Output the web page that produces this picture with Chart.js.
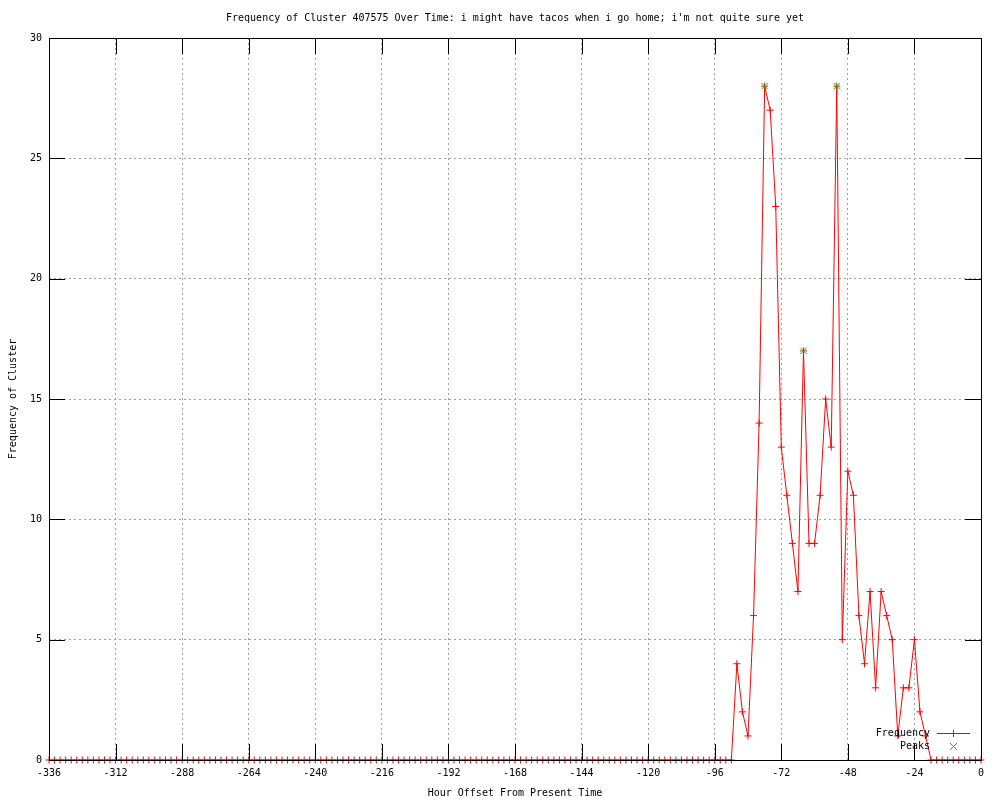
<!DOCTYPE html>
<html>
<head>
<meta charset="utf-8">
<script src="https://cdn.jsdelivr.net/npm/chart.js@4/dist/chart.umd.min.js"></script>
<style>
  html, body { margin: 0; padding: 0; background: #ffffff; }
  #wrap { width: 1000px; height: 800px; }
</style>
</head>
<body>
<div id="wrap"><canvas id="chart-cluster" width="1000" height="800"></canvas></div>
<script>
// ============================================================
// DATOS
// ============================================================
const chartTitle = "Frequency of Cluster 407575 Over Time: i might have tacos when i go home; i'm not quite sure yet";
const xTitle = 'Hour Offset From Present Time';
const yTitle = 'Frequency of Cluster';

// una muestra cada 2 horas, de -336 a 0
const hours = Array.from({ length: 169 }, (_, i) => -336 + 2 * i);

const frequency = [
    0, 0, 0, 0, 0, 0, 0, 0, 0, 0, 0, 0,        // -336 .. -314
    0, 0, 0, 0, 0, 0, 0, 0, 0, 0, 0, 0,        // -312 .. -290
    0, 0, 0, 0, 0, 0, 0, 0, 0, 0, 0, 0,        // -288 .. -266
    0, 0, 0, 0, 0, 0, 0, 0, 0, 0, 0, 0,        // -264 .. -242
    0, 0, 0, 0, 0, 0, 0, 0, 0, 0, 0, 0,        // -240 .. -218
    0, 0, 0, 0, 0, 0, 0, 0, 0, 0, 0, 0,        // -216 .. -194
    0, 0, 0, 0, 0, 0, 0, 0, 0, 0, 0, 0,        // -192 .. -170
    0, 0, 0, 0, 0, 0, 0, 0, 0, 0, 0, 0,        // -168 .. -146
    0, 0, 0, 0, 0, 0, 0, 0, 0, 0, 0, 0,        // -144 .. -122
    0, 0, 0, 0, 0, 0, 0, 0, 0, 0, 0, 0,        // -120 .. -98
    0, 0, 0, 0, 4, 2, 1, 6, 14, 28, 27, 23,    // -96 .. -74
    13, 11, 9, 7, 17, 9, 9, 11, 15, 13, 28, 5, // -72 .. -50
    12, 11, 6, 4, 7, 3, 7, 6, 5, 1, 3, 3,      // -48 .. -26
    5, 2, 1, 0, 0, 0, 0, 0, 0, 0, 0, 0,        // -24 .. -2
    0                                          // 0
];

const peakHours  = [-78, -64, -52];
const peakValues = [28, 17, 28];

const xTicks = [-336, -312, -288, -264, -240, -216, -192, -168, -144, -120, -96, -72, -48, -24, 0];
const yTicks = [0, 5, 10, 15, 20, 25, 30];

// ============================================================
// ESTILO
// ============================================================
const FONT = { family: "'DejaVu Sans Mono', 'Liberation Mono', monospace", size: 10, weight: 'normal' };
const RED = '#ff0000';
const GREEN = '#00c800';
const GRID = '#a0a0a0';
const TICK_LEN = 16;

// Marco + ticks interiores (estilo gnuplot), con rectángulos enteros
const framePlugin = {
    id: 'frame',
    afterDatasetsDraw(chart) {
        const { ctx, chartArea: a, scales } = chart;
        const L = Math.round(a.left), R = Math.round(a.right);
        const T = Math.round(a.top), B = Math.round(a.bottom);
        ctx.save();
        ctx.fillStyle = '#000000';
        xTicks.forEach(v => {
            const px = Math.round(scales.x.getPixelForValue(v));
            ctx.fillRect(px, B - TICK_LEN, 1, TICK_LEN);
            ctx.fillRect(px, T, 1, TICK_LEN);
        });
        yTicks.forEach(v => {
            const py = Math.round(scales.y.getPixelForValue(v));
            ctx.fillRect(L, py, TICK_LEN, 1);
            ctx.fillRect(R - TICK_LEN, py, TICK_LEN, 1);
        });
        ctx.fillRect(L, T, R - L + 1, 1);
        ctx.fillRect(L, B, R - L + 1, 1);
        ctx.fillRect(L, T, 1, B - T + 1);
        ctx.fillRect(R, T, 1, B - T + 1);
        ctx.restore();
    }
};

// Leyenda abajo a la derecha
const legendPlugin = {
    id: 'gnuLegend',
    afterDraw(chart) {
        const c = chart.ctx;
        const textRight = 930, x1 = 937, x2 = 970, xm = 953;
        const rows = [{ label: 'Frequency', y: 733 }, { label: 'Peaks', y: 746 }];
        c.save();
        c.font = "10px 'DejaVu Sans Mono', 'Liberation Mono', monospace";
        c.fillStyle = '#000000';
        c.textAlign = 'right';
        c.textBaseline = 'middle';
        rows.forEach(r => c.fillText(r.label, textRight, r.y));
        // Frequency: linea + cruz
        c.fillStyle = RED;
        c.fillRect(x1, rows[0].y, x2 - x1, 1);
        c.fillRect(xm, rows[0].y - 3, 1, 7);
        // Peaks: x verde
        c.strokeStyle = GREEN;
        c.lineWidth = 1;
        c.beginPath();
        c.moveTo(xm - 3, rows[1].y - 3); c.lineTo(xm + 4, rows[1].y + 4);
        c.moveTo(xm + 4, rows[1].y - 3); c.lineTo(xm - 3, rows[1].y + 4);
        c.stroke();
        c.restore();
    }
};

// ============================================================
// GRÁFICO
// ============================================================
const canvas = document.getElementById('chart-cluster');
new Chart(canvas, {
    type: 'line',
    data: {
        datasets: [
            {
                label: 'Frequency',
                data: hours.map((h, i) => ({ x: h, y: frequency[i] })),
                borderColor: RED,
                borderWidth: 1,
                tension: 0,
                pointStyle: 'cross',
                pointRadius: 3.5,
                pointBorderColor: RED,
                pointBorderWidth: 1,
                clip: false,
                order: 2
            },
            {
                label: 'Peaks',
                data: peakHours.map((h, i) => ({ x: h, y: peakValues[i] })),
                showLine: false,
                pointStyle: 'crossRot',
                pointRadius: 4.5,
                pointBorderColor: GREEN,
                pointBorderWidth: 1,
                clip: false,
                order: 1
            }
        ]
    },
    options: {
        responsive: false,
        animation: false,
        layout: { padding: { top: 0, left: 0, right: 19, bottom: 0 } },
        plugins: {
            legend: { display: false },
            tooltip: { enabled: false },
            title: {
                display: true,
                fullSize: false,
                text: chartTitle,
                color: '#000000',
                font: FONT,
                padding: { top: 12, bottom: 14 }
            }
        },
        scales: {
            x: {
                type: 'linear',
                min: -336,
                max: 0,
                afterFit: s => { s.height = 40; },
                afterBuildTicks: s => { s.ticks = xTicks.map(v => ({ value: v })); },
                ticks: { color: '#000000', font: FONT, padding: 7, maxRotation: 0, callback: v => String(v) },
                grid: { color: GRID, drawTicks: false, lineWidth: 1 },
                border: { display: false, dash: [2, 3] },
                title: { display: true, text: xTitle, color: '#000000', font: FONT, padding: { top: 0, bottom: 1 } }
            },
            y: {
                min: 0,
                max: 30,
                afterFit: s => { s.width = 49; },
                afterBuildTicks: s => { s.ticks = yTicks.map(v => ({ value: v })); },
                ticks: { color: '#000000', font: FONT, padding: 7, callback: v => String(v) },
                grid: { color: GRID, drawTicks: false, lineWidth: 1 },
                border: { display: false, dash: [2, 3] },
                title: { display: true, text: yTitle, color: '#000000', font: FONT, padding: { top: 7, bottom: 0 } }
            }
        }
    },
    plugins: [framePlugin, legendPlugin]
});
</script>
</body>
</html>
